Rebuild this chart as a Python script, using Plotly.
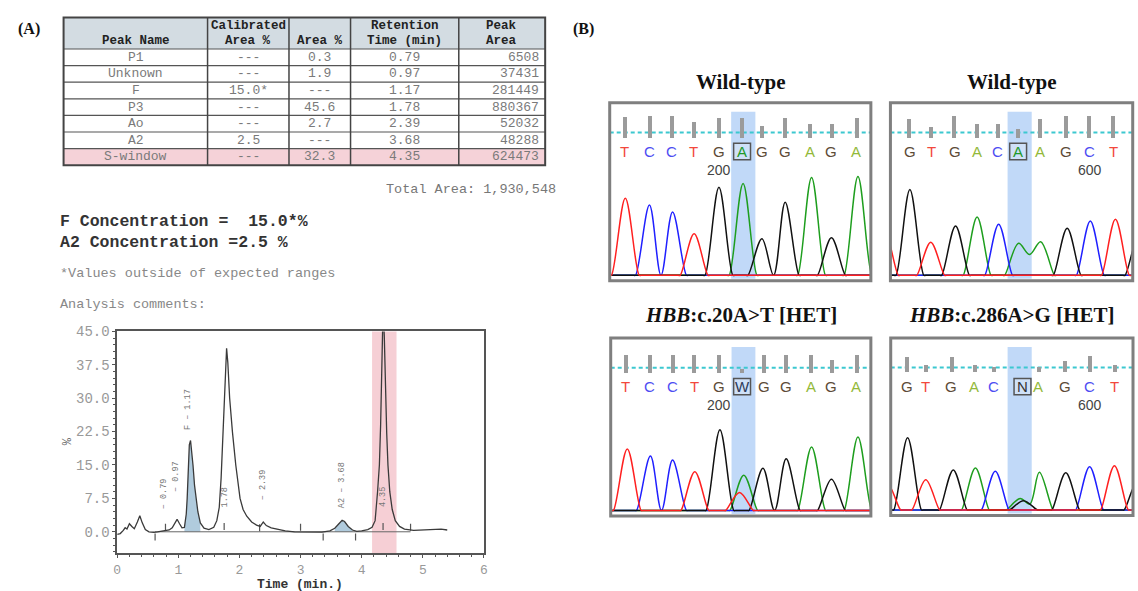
import plotly.graph_objects as go

W, H = 1138, 591

# ================= Panel A: HPLC report data =================
table_header_top = ["", "Calibrated", "", "Retention", "Peak"]
table_header_bottom = ["Peak Name", "Area %", "Area %", "Time (min)", "Area"]
peak_names = ["P1", "Unknown", "F", "P3", "Ao", "A2", "S-window"]
calibrated_area = ["---", "---", "15.0*", "---", "---", "2.5", "---"]
area_pct = ["0.3", "1.9", "---", "45.6", "2.7", "---", "32.3"]
retention_time = ["0.79", "0.97", "1.17", "1.78", "2.39", "3.68", "4.35"]
peak_area = ["6508", "37431", "281449", "880367", "52032", "48288", "624473"]
total_area = "1,930,548"
f_concentration = "15.0*"
a2_concentration = "2.5"

hplc_time = [0.00, 0.05, 0.10, 0.13, 0.16, 0.20, 0.24, 0.28, 0.33, 0.37,
             0.41, 0.46, 0.52, 0.60, 0.66, 0.72, 0.79, 0.85, 0.90, 0.94,
             0.98, 1.02, 1.06, 1.10, 1.13, 1.145, 1.16, 1.18, 1.20, 1.22,
             1.24, 1.265, 1.29, 1.32, 1.36, 1.42, 1.50, 1.58, 1.63, 1.67,
             1.70, 1.73, 1.75, 1.77, 1.79, 1.81, 1.84, 1.885, 1.94, 2.01,
             2.06, 2.12, 2.20, 2.28, 2.34, 2.39, 2.44, 2.52, 2.62, 2.75,
             2.90, 3.05, 3.20, 3.35, 3.48, 3.56, 3.62, 3.68, 3.72, 3.78,
             3.85, 3.92, 4.00, 4.10, 4.17, 4.22, 4.26, 4.29, 4.31, 4.33,
             4.35, 4.37, 4.39, 4.41, 4.43, 4.46, 4.50, 4.55, 4.62, 4.70,
             4.85, 5.00, 5.15, 5.30, 5.40]
hplc_signal = [-0.6, -0.4, 0.3, 0.9, 0.6, 1.8, 1.2, 0.7, 2.2, 3.6,
               2.0, 0.5, 0.0, -0.1, 0.0, 0.1, 0.3, 0.4, 0.9, 2.0,
               2.8, 1.8, 0.9, 1.0, 4.0, 7.5, 15.0, 19.5, 20.5, 18.0,
               15.0, 10.5, 7.5, 4.5, 2.0, 0.8, 0.5, 1.0, 2.5, 5.5,
               12.0, 22.0, 30.0, 37.0, 41.2, 38.0, 30.0, 22.5, 15.0, 7.5,
               5.0, 3.5, 2.2, 1.5, 1.2, 2.2, 1.4, 0.9, 0.6, 0.2,
               0.0, 0.0, -0.1, -0.1, 0.2, 0.8, 1.7, 2.6, 2.3, 1.2,
               0.4, 0.1, 0.2, 0.5, 1.0, 2.5, 9.0, 15.0, 24.0, 38.0,
               50.0, 44.0, 30.0, 22.0, 15.0, 9.0, 5.0, 2.5, 1.2, 0.6,
               0.3, 0.4, 0.5, 0.6, 0.4]
f_window = [1.08, 1.38]
a2_window = [3.50, 3.90]
s_window = [4.17, 4.57]
integration_baseline_t = [0.62, 4.80]
integration_baseline_y = [0.0, 0.0]
boundary_mark_t = [0.62, 0.79, 1.75, 2.33, 3.00, 3.37, 3.90, 4.35, 4.80]
boundary_mark_y = [-1.2, 1.0, 1.2, 0.9, 1.0, -1.2, -1.2, 1.2, 1.0]
peak_label_t = [0.77, 0.96, 1.17, 1.77, 2.39, 3.68, 4.35]
peak_label_y = [8.5, 12.5, 27.5, 7.8, 10.5, 10.5, 7.8]
peak_label_text = ["– 0.79", "– 0.97", "F – 1.17", "1.78", "– 2.39", "A2 – 3.68", "4.35"]
hplc_x_ticks = [0, 1, 2, 3, 4, 5, 6]
hplc_y_ticks = [0, 7.5, 15, 22.5, 30, 37.5, 45]

# ================= Panel B: Sanger traces data =================
# positions in scan units, heights in relative fluorescence units
wt20_bases = ["T", "C", "C", "T", "G", "A", "G", "G", "A", "G", "A"]
wt20_base_pos = [15, 40, 62.7, 84.3, 110, 133.3, 153.3, 176.7, 201.7, 223.3, 248.3]
wt20_quality = [20.7, 21.7, 21.7, 16, 20, 20, 11.7, 20, 13.3, 13.3, 20]
wt20_peak_pos = [15.7, 40, 63.3, 85, 110, 134.3, 153.3, 176.7, 203.3, 223.3, 250]
wt20_peak_base = ["T", "C", "C", "T", "G", "A", "G", "G", "A", "G", "A"]
wt20_peak_height = [78, 71, 64, 42, 89, 93, 37, 74, 99, 38, 100]
wt20_valleys = []
wt20_highlight = [122.3, 146.7]

wt286_bases = ["G", "T", "G", "A", "C", "A", "A", "G", "C", "T"]
wt286_base_pos = [19.6, 41.3, 64.6, 87.3, 108.3, 128.6, 150.6, 177.3, 200.6, 224.6]
wt286_quality = [19, 10.7, 21.7, 13.3, 13.3, 8.3, 19, 21.7, 21.7, 21.7]
wt286_peak_pos = [-6, 19.6, 40.6, 65.6, 87.3, 109, 129, 151.3, 178, 201.3, 226.6, 250.3]
wt286_peak_base = ["T", "G", "T", "G", "A", "C", "A", "A", "G", "C", "T", "G"]
wt286_peak_height = [45, 86.7, 33.4, 50, 59, 51.7, 32.4, 34, 47.7, 55, 56.7, 40]
wt286_valleys = [("A", 140, 21)]
wt286_highlight = [118, 142.3]

het20_bases = ["T", "C", "C", "T", "G", "W", "G", "G", "A", "G", "A"]
het20_base_pos = [14.7, 39, 62.3, 84, 109, 132.3, 154, 176.7, 201.3, 222.3, 247.3]
het20_quality = [17.3, 17.3, 17.3, 17.3, 17.3, 3.3, 17.3, 17.3, 17.3, 12.3, 17.3]
het20_peak_pos = [16.7, 40, 62.3, 84.7, 110, 129.7, 134, 153.3, 176.7, 202.3, 222.3, 249]
het20_peak_base = ["T", "C", "C", "T", "G", "T", "A", "G", "G", "A", "G", "A"]
het20_peak_height = [62.3, 55, 51, 39.3, 81.7, 18.3, 35.7, 42.7, 52.3, 64.3, 31.7, 74.3]
het20_valleys = []
het20_highlight = [121.7, 145.7]

het286_bases = ["G", "T", "G", "A", "C", "N", "A", "G", "C", "T"]
het286_base_pos = [16.3, 35.3, 61, 84.3, 103.7, 132.7, 148.7, 175.3, 200.3, 225.3]
het286_quality = [15.7, 7.3, 15.7, 7.3, 5.7, 0, 5.7, 11.3, 16.7, 8]
het286_peak_pos = [-4, 17, 35.3, 63, 85.3, 105.3, 130.3, 133.7, 149.7, 176.3, 200.3, 225.3, 249]
het286_peak_base = ["T", "G", "T", "G", "A", "C", "A", "G", "A", "G", "C", "T", "G"]
het286_peak_height = [28, 73.3, 30.7, 40.7, 42.7, 39.3, 11.7, 9.3, 38.3, 37.7, 44, 45, 30]
het286_valleys = [("A", 140, 6)]
het286_highlight = [117.7, 142]

panel_titles = ["<b>Wild-type</b>", "<b>Wild-type</b>",
                "<b><i>HBB</i>:c.20A&gt;T [HET]</b>", "<b><i>HBB</i>:c.286A&gt;G [HET]</b>"]
panel_numbers = [("200", 4), ("600", 8), ("200", 4), ("600", 8)]
panel_highlight_index = [5, 5, 5, 5]

# ================= helpers / styles =================
def X(px):
    return px / W

def Y(py):
    return 1 - py / H

MONO = "Liberation Mono"
SERIF = "Liberation Serif"
SANS = "Liberation Sans"

fig = go.Figure()
annotations = []
shapes = []


def note(px, py, text, font, xanchor="center", yanchor="middle", **kw):
    annotations.append(dict(x=X(px), y=Y(py), xref="paper", yref="paper", text=text,
                            xanchor=xanchor, yanchor=yanchor, showarrow=False, font=font, **kw))


# ---------- Table (drawn with shapes + text) ----------
COL_EDGES = [60, 205, 287, 349, 458, 545]
HEAD_TOP, HEAD_BOTTOM, ROW_H = 10.5, 42.5, 16.8
n_rows = len(peak_names)
table_bottom = HEAD_BOTTOM + ROW_H * n_rows
shapes.append(dict(type="rect", xref="paper", yref="paper", x0=X(COL_EDGES[0]), x1=X(COL_EDGES[-1]),
                   y0=Y(HEAD_BOTTOM), y1=Y(HEAD_TOP), fillcolor="#d3dce2", line=dict(width=0),
                   layer="below"))
shapes.append(dict(type="rect", xref="paper", yref="paper", x0=X(COL_EDGES[0]), x1=X(COL_EDGES[-1]),
                   y0=Y(table_bottom), y1=Y(table_bottom - ROW_H), fillcolor="#f5d2d8",
                   line=dict(width=0), layer="below"))
for r in range(n_rows):
    yy = HEAD_BOTTOM + ROW_H * r
    shapes.append(dict(type="line", xref="paper", yref="paper", x0=X(COL_EDGES[0]), x1=X(COL_EDGES[-1]),
                       y0=Y(yy), y1=Y(yy), line=dict(color="#555", width=1.2)))
for cx in COL_EDGES[1:-1]:
    shapes.append(dict(type="line", xref="paper", yref="paper", x0=X(cx), x1=X(cx),
                       y0=Y(table_bottom), y1=Y(HEAD_TOP), line=dict(color="#444", width=1.5)))
shapes.append(dict(type="rect", xref="paper", yref="paper", x0=X(COL_EDGES[0]), x1=X(COL_EDGES[-1]),
                   y0=Y(table_bottom), y1=Y(HEAD_TOP), line=dict(color="#444", width=2)))

head_font = dict(family=MONO, size=12.5, color="#222")
cell_font = dict(family=MONO, size=13, color="#7a7a7a")
for c in range(5):
    cmid = (COL_EDGES[c] + COL_EDGES[c + 1]) / 2
    if table_header_top[c]:
        note(cmid, 19.5, "<b>" + table_header_top[c] + "</b>", head_font)
    note(cmid, 34.5, "<b>" + table_header_bottom[c] + "</b>", head_font)
columns = [peak_names, calibrated_area, area_pct, retention_time, peak_area]
for c, col in enumerate(columns):
    for r, val in enumerate(col):
        yy = HEAD_BOTTOM + ROW_H * (r + 0.5)
        if c == 4:
            note(COL_EDGES[c + 1] - 4, yy, val, cell_font, xanchor="right")
        else:
            note((COL_EDGES[c] + COL_EDGES[c + 1]) / 2, yy, val, cell_font)

note(558, 185, "Total Area: " + total_area, dict(family=MONO, size=13.5, color="#777"),
     xanchor="right")
note(54, 217.5, "<b>F Concentration =&nbsp;&nbsp;" + f_concentration + "%</b>",
     dict(family=MONO, size=16.5, color="#333"), xanchor="left")
note(54, 238, "<b>A2 Concentration =" + a2_concentration + " %</b>",
     dict(family=MONO, size=16.5, color="#333"), xanchor="left")
note(54, 270, "*Values outside of expected ranges", dict(family=MONO, size=13.5, color="#888"),
     xanchor="left")
note(54, 301, "Analysis comments:", dict(family=MONO, size=13.5, color="#888"), xanchor="left")

# ---------- HPLC chromatogram ----------
shapes.append(dict(type="rect", xref="x", yref="y domain", x0=s_window[0], x1=s_window[1],
                   y0=0, y1=1, fillcolor="rgba(238,160,172,0.5)", line=dict(width=0),
                   layer="below"))
for win in (f_window, a2_window):
    ft = [t for t in hplc_time if win[0] <= t <= win[1]]
    fs = [s for t, s in zip(hplc_time, hplc_signal) if win[0] <= t <= win[1]]
    fig.add_trace(go.Scatter(x=ft, y=fs, mode="lines", fill="tozeroy",
                             fillcolor="rgba(150,186,210,0.75)", line=dict(width=0),
                             xaxis="x", yaxis="y", hoverinfo="skip"))
fig.add_trace(go.Scatter(x=integration_baseline_t, y=integration_baseline_y, mode="lines",
                         line=dict(color="#666", width=1), xaxis="x", yaxis="y"))
fig.add_trace(go.Scatter(x=boundary_mark_t, y=boundary_mark_y, mode="markers",
                         marker=dict(symbol="line-ns", size=5, line=dict(color="#555", width=1.2)),
                         xaxis="x", yaxis="y", hoverinfo="skip"))
fig.add_trace(go.Scatter(x=hplc_time, y=hplc_signal, mode="lines",
                         line=dict(color="#3a3a3a", width=1.3), xaxis="x", yaxis="y"))
for t, yv, txt in zip(peak_label_t, peak_label_y, peak_label_text):
    annotations.append(dict(x=t, y=yv, xref="x", yref="y", text=txt, textangle=-90,
                            xanchor="center", yanchor="middle",
                            showarrow=False, font=dict(family=MONO, size=8.5, color="#777")))
note(64, 440, "%", dict(family=MONO, size=12, color="#666"), textangle=-90)
note(298, 584, "<b>Time (min.)</b>", dict(family=MONO, size=13, color="#333"))

axis_line = dict(showline=True, linecolor="#555", linewidth=1.5, mirror=True,
                 showgrid=False, zeroline=False, ticks="outside", ticklen=3,
                 tickcolor="#555", tickwidth=1.2)
layout_axes = dict(
    xaxis=dict(domain=[X(114), X(483.3)], range=[0, 6], tickvals=hplc_x_ticks,
               tickfont=dict(family=MONO, size=13, color="#999"), anchor="y",
               minor=dict(dtick=0.2, tick0=0, ticks="outside", ticklen=2, tickcolor="#555"),
               **axis_line),
    yaxis=dict(domain=[Y(552.7), Y(328.3)], range=[-4.8, 45], tickvals=hplc_y_ticks,
               ticktext=["%.1f" % v for v in hplc_y_ticks], anchor="x",
               tickfont=dict(family=MONO, size=14, color="#999"),
               minor=dict(dtick=1.5, tick0=0, ticks="outside", ticklen=2, tickcolor="#555"),
               **axis_line),
)

# ---------- Sanger panels ----------
BOXES = [(610, 97, 873, 277), (892.7, 97, 1136.7, 277),
         (611, 335, 873, 515), (893, 335, 1137, 514.5)]
TRACE_COLOR = {"A": "#1e9e1e", "C": "#2020ff", "G": "#111111", "T": "#ff2020"}
LETTER_COLOR = {"A": "#93b93a", "C": "#4d4df2", "G": "#5c4b36", "T": "#f2483c",
                "W": "#2c3a58", "N": "#333333"}
HW = 14.0
BAR_BASE, DASH_Y, LETTER_Y, NUMBER_Y = 139.5, 144.5, 125.5, 107
Y_RANGE = [-5.5, 174.5]

panels = [
    (wt20_bases, wt20_base_pos, wt20_quality, wt20_peak_pos, wt20_peak_base, wt20_peak_height,
     wt20_valleys, wt20_highlight),
    (wt286_bases, wt286_base_pos, wt286_quality, wt286_peak_pos, wt286_peak_base,
     wt286_peak_height, wt286_valleys, wt286_highlight),
    (het20_bases, het20_base_pos, het20_quality, het20_peak_pos, het20_peak_base,
     het20_peak_height, het20_valleys, het20_highlight),
    (het286_bases, het286_base_pos, het286_quality, het286_peak_pos, het286_peak_base,
     het286_peak_height, het286_valleys, het286_highlight),
]


def channel_nodes(ch, pos, base, height, valleys, xmax):
    pk = sorted((p, h) for p, b, h in zip(pos, base, height) if b == ch)
    xs, ys = [-30.0], [0.0]
    for i, (p, h) in enumerate(pk):
        if i > 0 and pk[i - 1][0] + HW > p - HW:
            mid = (pk[i - 1][0] + p) / 2
            v = 0.0
            for vc, vx, vv in valleys:
                if vc == ch and abs(vx - mid) < 4:
                    v = vv
            xs.append(mid)
            ys.append(v)
        else:
            if i > 0:
                xs += [pk[i - 1][0] + HW, pk[i - 1][0] + HW + 2]
                ys += [0.0, 0.0]
            xs += [p - HW - 2, p - HW]
            ys += [0.0, 0.0]
        xs.append(p)
        ys.append(h)
    if pk:
        xs += [pk[-1][0] + HW, pk[-1][0] + HW + 2]
        ys += [0.0, 0.0]
    xs.append(xmax + 30)
    ys.append(0.0)
    return xs, ys


for k, (bases, bpos, qual, ppos, pbase, pheight, valleys, hl) in enumerate(panels):
    n = k + 2
    xa, ya = "x%d" % n, "y%d" % n
    x0p, y0p, x1p, y1p = BOXES[k]
    width = x1p - x0p
    layout_axes["xaxis%d" % n] = dict(domain=[X(x0p), X(x1p)], range=[0, width],
                                      visible=False, anchor=ya, fixedrange=True)
    layout_axes["yaxis%d" % n] = dict(domain=[Y(y1p), Y(y0p)], range=Y_RANGE,
                                      visible=False, anchor=xa, fixedrange=True)
    shapes.append(dict(type="rect", xref=xa, yref=ya + " domain", x0=hl[0], x1=hl[1],
                       y0=0.011, y1=0.95, fillcolor="rgba(160,196,245,0.65)",
                       line=dict(width=0), layer="below"))
    shapes.append(dict(type="line", xref=xa + " domain", yref=ya, x0=0, x1=1,
                       y0=DASH_Y, y1=DASH_Y, line=dict(color="#3cc8d0", width=2, dash="4px,3px"),
                       layer="below"))
    fig.add_trace(go.Bar(x=bpos, y=qual, base=[BAR_BASE] * len(bpos), width=4,
                         marker=dict(color="#9b9b9b", line=dict(width=0)),
                         xaxis=xa, yaxis=ya, hoverinfo="skip"))
    for ch in ["A", "C", "G", "T"]:
        xs, ys = channel_nodes(ch, ppos, pbase, pheight, valleys, width)
        fig.add_trace(go.Scatter(x=xs, y=ys, mode="lines", line_shape="spline",
                                 line=dict(color=TRACE_COLOR[ch], width=1.5, smoothing=1.0),
                                 xaxis=xa, yaxis=ya, hoverinfo="skip"))
    hi = panel_highlight_index[k]
    for i, (b, p) in enumerate(zip(bases, bpos)):
        col = LETTER_COLOR[b]
        if i == hi and b == "A":
            col = "#1f9a2a"
        annotations.append(dict(x=p, y=LETTER_Y, xref=xa, yref=ya, text=b, showarrow=False,
                                xanchor="center", yanchor="middle",
                                font=dict(family=SANS, size=15, color=col)))
    hp = bpos[hi]
    shapes.append(dict(type="rect", xref=xa, yref=ya, x0=hp - 8.5, x1=hp + 8.5,
                       y0=117, y1=133.5, line=dict(color="#555", width=1.5),
                       fillcolor="rgba(235,240,248,0.35)"))
    num_txt, num_i = panel_numbers[k]
    annotations.append(dict(x=bpos[num_i], y=NUMBER_Y, xref=xa, yref=ya, text=num_txt,
                            xanchor="center", yanchor="middle", showarrow=False,
                            font=dict(family=SANS, size=14, color="#444")))
    shapes.append(dict(type="rect", xref="paper", yref="paper", x0=X(x0p), x1=X(x1p),
                       y0=Y(y1p), y1=Y(y0p), line=dict(color="#7f7f7f", width=3)))
    cx = (x0p + x1p) / 2
    ty = 76 if k < 2 else 311.5
    note(cx, ty, panel_titles[k], dict(family=SERIF, size=21, color="#111"))

note(25, 22, "<b>(A)</b>", dict(family=SERIF, size=16, color="#111"))
note(584, 22, "<b>(B)</b>", dict(family=SERIF, size=16, color="#111"))

fig.update_layout(width=W, height=H, margin=dict(l=0, r=0, t=0, b=0),
                  paper_bgcolor="white", plot_bgcolor="white", showlegend=False,
                  bargap=0, annotations=annotations, shapes=shapes, **layout_axes)

fig.write_html("out.html")
